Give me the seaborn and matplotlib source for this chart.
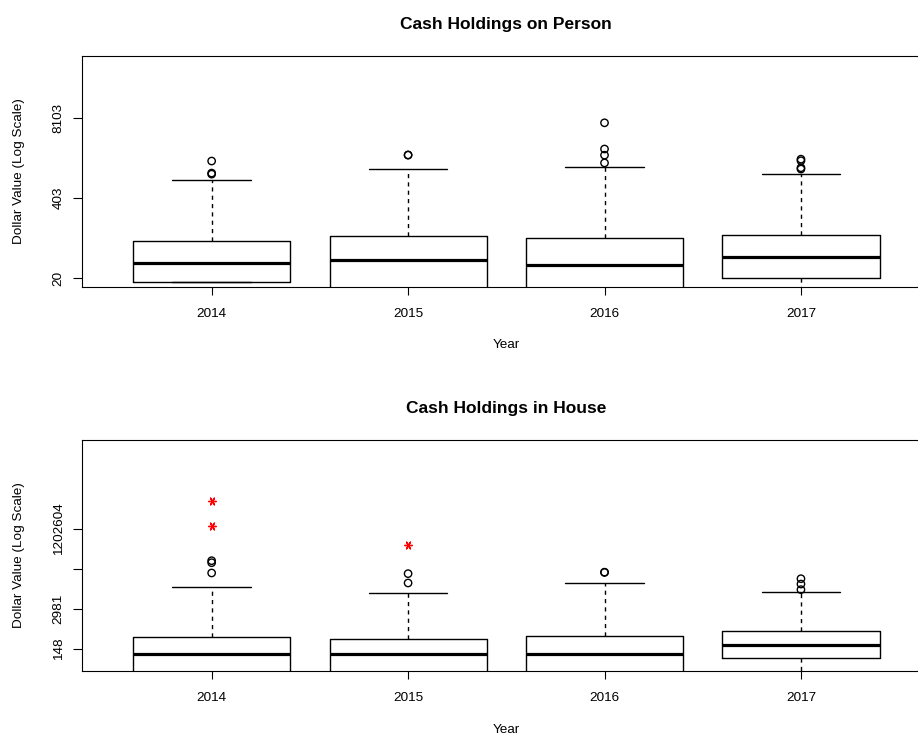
import numpy as np
import pandas as pd
import matplotlib
matplotlib.use("Agg")
import matplotlib.pyplot as plt
import seaborn as sns

# ---- data (natural-log dollar values) ----
years = ["2014", "2015", "2016", "2017"]

# cash carried on person
person_q1 = [2.84, 2.30, 2.30, 3.00]
person_med = [3.56, 3.69, 3.49, 3.79]
person_q3 = [4.38, 4.56, 4.50, 4.61]
person_whislo = [2.84, 0.00, 0.00, 1.61]
person_whishi = [6.68, 7.10, 7.17, 6.90]
person_out_year = ["2014", "2014", "2014", "2015", "2015",
                   "2016", "2016", "2016", "2016",
                   "2017", "2017", "2017", "2017"]
person_out_val = [6.89, 6.93, 7.38, 7.60, 7.61,
                  7.31, 7.60, 7.83, 8.81,
                  7.08, 7.13, 7.39, 7.45]
person_ticks = [3, 6, 9]
person_ticklabels = ["20", "403", "8103"]

# cash kept in the house
house_q1 = [3.00, 3.00, 3.00, 4.30]
house_med = [4.605, 4.605, 4.605, 5.30]
house_q3 = [5.92, 5.70, 5.975, 6.30]
house_whislo = [0.00, 0.00, 0.00, 2.30]
house_whishi = [9.63, 9.20, 9.90, 9.25]
house_out_year = ["2014", "2014", "2014", "2015", "2015",
                  "2016", "2016", "2017", "2017", "2017"]
house_out_val = [10.68, 11.45, 11.60, 9.93, 10.63,
                 10.72, 10.74, 9.43, 9.85, 10.25]
house_extreme_year = ["2014", "2014", "2015"]
house_extreme_val = [14.20, 16.05, 12.78]
house_ticks = [5, 8, 11, 14]
house_ticklabels = ["148", "2981", "", "1202604"]

# ---- style ----
sns.set_style("ticks")
plt.rcParams["font.family"] = ["Liberation Sans", "DejaVu Sans"]
for key in ("text.color", "axes.labelcolor", "xtick.color", "ytick.color",
            "axes.edgecolor"):
    plt.rcParams[key] = "black"

W, H = 918, 736
fig = plt.figure(figsize=(W / 100, H / 100), dpi=100)

positions = np.arange(1, len(years) + 1)
pos_of = {y: p for y, p in zip(years, positions)}


def panel(ax, q1, med, q3, lo, hi, out_year, out_val, ticks, ticklabels,
          ylim, title, extreme_year=None, extreme_val=None):
    stats = [dict(q1=a, med=m, q3=b, whislo=l, whishi=h, fliers=[])
             for a, m, b, l, h in zip(q1, med, q3, lo, hi)]
    ax.bxp(stats, positions=positions, widths=0.8, showfliers=False,
           boxprops=dict(color="black", linewidth=1.0),
           medianprops=dict(color="black", linewidth=2.3, solid_capstyle="butt"),
           whiskerprops=dict(color="black", linewidth=1.0, linestyle=(0, (3, 3))),
           capprops=dict(color="black", linewidth=1.0),
           capwidths=0.4)

    df = pd.DataFrame({"x": [pos_of[y] for y in out_year], "v": out_val})
    sns.scatterplot(data=df, x="x", y="v", ax=ax, marker="o", s=28,
                    facecolors="none", edgecolors="black", linewidth=1.0,
                    legend=False, zorder=3)
    if extreme_year is not None:
        dfe = pd.DataFrame({"x": [pos_of[y] for y in extreme_year],
                            "v": extreme_val})
        sns.scatterplot(data=dfe, x="x", y="v", ax=ax, marker=(6, 2, 90),
                        s=30, color="red", edgecolor="red", linewidth=1.0,
                        legend=False, zorder=3)

    span = 4.0
    ax.set_xlim(0.5 - 0.04 * span, 4.5 + 0.04 * span)
    d = ylim[1] - ylim[0]
    ax.set_ylim(ylim[0] - 0.04 * d, ylim[1] + 0.04 * d)

    ax.set_xticks(positions)
    ax.set_xticklabels(years)
    ax.set_yticks(ticks)
    ax.set_yticklabels(ticklabels, rotation=90, va="center")

    ax.tick_params(axis="x", direction="out", length=6, width=0.8,
                   labelsize=9.7, pad=9, color="black", labelcolor="black")
    ax.tick_params(axis="y", direction="out", length=6.5, width=0.8,
                   labelsize=9.7, pad=6, color="black", labelcolor="black")
    for s in ax.spines.values():
        s.set_visible(True)
        s.set_linewidth(0.8)
        s.set_color("black")

    ax.set_xlabel("Year", fontsize=9.7, color="black")
    ax.xaxis.label.set_va("center")
    ax.set_ylabel("Dollar Value (Log Scale)", fontsize=9.7, color="black")
    ax.yaxis.label.set_va("center")
    ax.set_title(title, fontsize=12.5, fontweight="bold", pad=19.5,
                 color="black")


ax_w = 848.6
# top panel: frame from y=55.7 to y=286.7 px
ax1 = fig.add_axes([82 / W, 1 - 286.7 / H, ax_w / W, 231 / H])
panel(ax1, person_q1, person_med, person_q3, person_whislo, person_whishi,
      person_out_year, person_out_val, person_ticks, person_ticklabels,
      (3, 11), "Cash Holdings on Person")
ax1.xaxis.set_label_coords(0.5, -58.5 / 231)
ax1.yaxis.set_label_coords((18.7 - 82) / ax_w, 0.5)

# bottom panel: frame from y=440 to y=670.7 px
ax2 = fig.add_axes([82 / W, 1 - 670.7 / H, ax_w / W, 230.7 / H])
panel(ax2, house_q1, house_med, house_q3, house_whislo, house_whishi,
      house_out_year, house_out_val, house_ticks, house_ticklabels,
      (4, 20), "Cash Holdings in House",
      extreme_year=house_extreme_year, extreme_val=house_extreme_val)
ax2.xaxis.set_label_coords(0.5, -59.5 / 230.7)
ax2.yaxis.set_label_coords((18.7 - 82) / ax_w, 0.5)

fig.savefig("out.png", dpi=100, facecolor="white")
